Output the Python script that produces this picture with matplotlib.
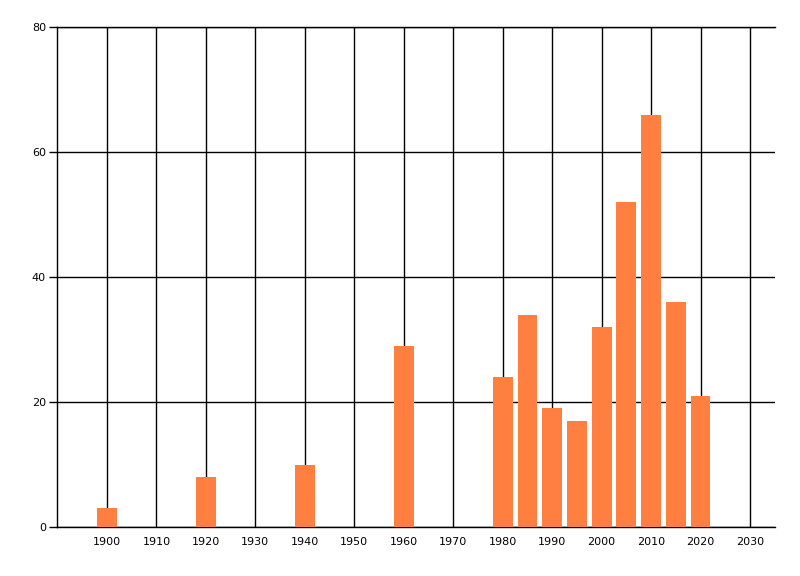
import matplotlib
matplotlib.use("Agg")
import matplotlib.pyplot as plt

# decade buckets and counts
years  = [1900, 1920, 1940, 1960, 1980, 1985, 1990, 1995, 2000, 2005, 2010, 2015, 2020]
counts = [3, 8, 10, 29, 24, 34, 19, 17, 32, 52, 66, 36, 21]

x_ticks = list(range(1900, 2031, 10))
y_ticks = [0, 20, 40, 60, 80]

BAR_C = "#FF7F41"

fig = plt.figure(figsize=(8, 5.76), dpi=100)
ax = fig.add_axes([57 / 800, 1 - 527 / 576, (775 - 57) / 800, (527 - 27) / 576])

ax.bar(years, counts, width=4.0, color=BAR_C, zorder=3)

ax.set_xlim(1889.9, 2035.05)
ax.set_ylim(0, 80)
ax.set_xticks(x_ticks)
ax.set_yticks(y_ticks)
ax.grid(True, color="black", linewidth=1.0, zorder=1)
ax.set_axisbelow(True)

for side in ("right",):
    ax.spines[side].set_visible(False)
for side in ("left", "bottom", "top"):
    ax.spines[side].set_color("black")
    ax.spines[side].set_linewidth(1.0)

ax.tick_params(axis="x", length=0, pad=7, labelsize=8)
ax.tick_params(axis="y", length=6, width=1.0, pad=2, labelsize=8)

fig.savefig("out.png", dpi=100)
